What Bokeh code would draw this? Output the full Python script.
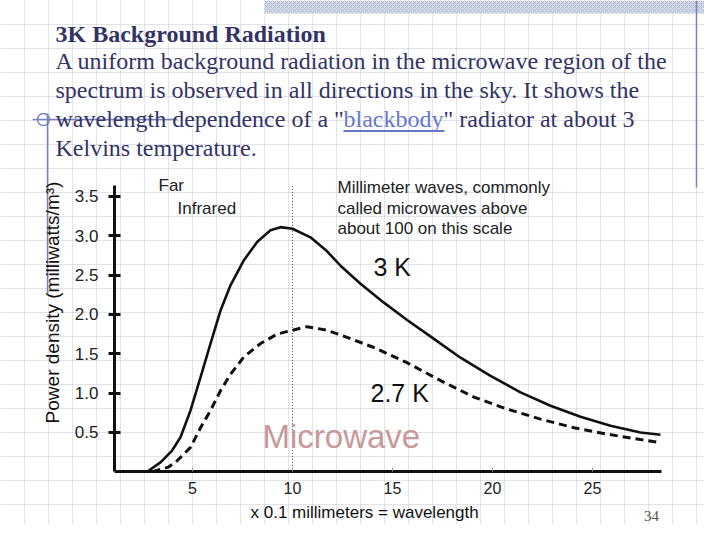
from bokeh.plotting import figure
from bokeh.models import Range1d, LinearAxis, FixedTicker, Grid, Label, NumeralTickFormatter
from bokeh.embed import file_html
from bokeh.resources import INLINE

# ---------------- data ----------------
wl_3k = [2.73, 3.4, 3.98, 4.4, 4.9, 5.4, 5.9, 6.4, 6.9, 7.57, 8.23, 8.9, 9.4, 10.0,
         10.9, 11.7, 12.4, 13.4, 14.57, 15.73, 17.07, 18.4, 19.9, 21.4, 22.9,
         24.4, 25.9, 27.4, 28.4]
pd_3k = [0.0, 0.12, 0.27, 0.44, 0.78, 1.20, 1.63, 2.05, 2.37, 2.69, 2.92, 3.07, 3.11, 3.09,
         2.98, 2.81, 2.62, 2.39, 2.15, 1.93, 1.69, 1.45, 1.22, 1.01, 0.84,
         0.70, 0.585, 0.50, 0.47]

wl_27k = [3.0, 3.8, 4.23, 4.9, 5.4, 5.9, 6.4, 6.9, 7.57, 8.4, 9.23, 10.0, 10.73, 11.7,
          12.4, 14.07, 15.7, 17.4, 19.07, 20.7, 22.4, 24.07, 25.7, 27.4, 28.4]
pd_27k = [0.0, 0.06, 0.14, 0.31, 0.56, 0.78, 1.03, 1.24, 1.46, 1.63, 1.75, 1.80, 1.845, 1.80,
          1.74, 1.58, 1.39, 1.16, 0.95, 0.80, 0.67, 0.56, 0.48, 0.41, 0.37]

x_ticks = [5, 10, 15, 20, 25]
y_ticks = [0.5, 1.0, 1.5, 2.0, 2.5, 3.0, 3.5]
microwave_edge = 10
x_axis_bounds = (1.1, 28.45)
y_axis_bounds = (0.0, 3.64)

title_text = "3K Background Radiation"
body_lines = [
    "A uniform background radiation in the microwave region of the",
    "spectrum is observed in all directions in the sky. It shows the",
    None,
    "Kelvins temperature.",
]
line3_parts = ['wavelength dependence of a "', "blackbody", '" radiator at about 3']

# ---------------- layout helpers (slide pixel -> data) ----------------
W, H = 704, 524
X0_PX, X_SCALE = 92.0, 20.0
Y0_PX, Y_SCALE = 471.3, 78.67


def dx(px):
    return (px - X0_PX) / X_SCALE


def dy(py):
    return (Y0_PX - py) / Y_SCALE


p = figure(width=W, height=H, output_backend="svg", toolbar_location=None,
           x_range=Range1d(dx(0), dx(W)), y_range=Range1d(dy(H), dy(0)),
           x_axis_type=None, y_axis_type=None, min_border=0)
p.outline_line_color = None
p.background_fill_color = "white"
p.border_fill_color = "white"

# slide background dotted grid
p.add_layout(Grid(dimension=0, ticker=FixedTicker(ticks=[dx(24 * k) for k in range(31)]),
                  grid_line_color="#c3c7d3", grid_line_dash="1 1", grid_line_width=1))
p.add_layout(Grid(dimension=1, ticker=FixedTicker(ticks=[dy(24 * k) for k in range(24)]),
                  grid_line_color="#c3c7d3", grid_line_dash="1 1", grid_line_width=1))

# slide decorations
p.quad(left=[dx(264)], right=[dx(724)], top=[dy(0)], bottom=[dy(13)],
       fill_color="#d6dbe9", line_color=None, hatch_pattern="x",
       hatch_color="#b3bbd3", hatch_scale=4, hatch_weight=1)
deco = "#7a82b6"
p.segment(x0=[dx(696)], y0=[dy(0)], x1=[dx(696)], y1=[dy(187)], line_color=deco, line_width=1.5)
p.segment(x0=[dx(47)], y0=[dy(113)], x1=[dx(47)], y1=[dy(293)], line_color=deco, line_width=1.5)
p.segment(x0=[dx(32)], y0=[dy(119)], x1=[dx(177)], y1=[dy(119)], line_color=deco, line_width=1.5)
p.scatter(x=[dx(43)], y=[dy(119)], marker="circle", size=12, fill_color=None,
          line_color=deco, line_width=1.5)

# slide text (y values are visual centres)
navy = "#333366"
serif = "Liberation Serif"
p.add_layout(Label(x=dx(55), y=dy(33), text=title_text, text_font=serif,
                   text_font_style="bold", text_font_size="24px", text_color=navy,
                   text_baseline="middle"))
centres = [60.5, 89.5, 118.5, 147.5]
for txt, cy in zip(body_lines, centres):
    if txt is None:
        continue
    p.add_layout(Label(x=dx(55), y=dy(cy), text=txt, text_font=serif,
                       text_font_size="24px", text_color=navy, text_baseline="middle"))
part_x = [55, 343, 443]
part_col = [navy, "#6677cc", navy]
for txt, xx, col in zip(line3_parts, part_x, part_col):
    p.add_layout(Label(x=dx(xx), y=dy(centres[2]), text=txt, text_font=serif,
                       text_font_size="24px", text_color=col, text_baseline="middle"))
p.segment(x0=[dx(343)], y0=[dy(130.5)], x1=[dx(444)], y1=[dy(130.5)],
          line_color="#6677cc", line_width=2)

# ---------------- chart ----------------
p.segment(x0=[microwave_edge], y0=[0], x1=[microwave_edge], y1=[y_axis_bounds[1]],
          line_color="#444444", line_dash="1 2", line_width=1)
p.line(wl_3k, pd_3k, line_color="#111111", line_width=2.6)
p.line(wl_27k, pd_27k, line_color="#111111", line_width=3, line_dash="8 5")

yaxis = LinearAxis(fixed_location=x_axis_bounds[0], bounds=y_axis_bounds,
                   ticker=FixedTicker(ticks=y_ticks), formatter=NumeralTickFormatter(format="0.0"),
                   axis_line_width=3, axis_line_color="#111111",
                   major_tick_in=6, major_tick_out=6, major_tick_line_width=3,
                   major_tick_line_color="#111111", minor_tick_line_color=None,
                   major_label_text_font="Liberation Sans", major_label_text_font_size="17px",
                   major_label_text_color="#222222", major_label_standoff=10)
p.add_layout(yaxis, "left")
xaxis = LinearAxis(fixed_location=0, bounds=x_axis_bounds,
                   ticker=FixedTicker(ticks=x_ticks),
                   axis_line_width=3, axis_line_color="#111111",
                   major_tick_in=4, major_tick_out=0, major_tick_line_width=1,
                   major_tick_line_color="#999999", minor_tick_line_color=None,
                   major_label_text_font="Liberation Sans", major_label_text_font_size="16px",
                   major_label_text_color="#222222", major_label_standoff=10)
p.add_layout(xaxis, "below")

sans = "Liberation Sans"
chart_texts = [
    ("Far", 158, 185, "17px", "#222222"),
    ("Infrared", 177, 208, "17px", "#222222"),
    ("Millimeter waves, commonly", 337, 187, "17px", "#222222"),
    ("called microwaves above", 337, 208, "17px", "#222222"),
    ("about 100 on this scale", 337, 228, "17px", "#222222"),
    ("3 K", 373, 266, "25px", "#111111"),
    ("2.7 K", 370, 392, "25px", "#111111"),
    ("Microwave", 262, 436, "33px", "#c8999a"),
    ("x 0.1 millimeters = wavelength", 250, 512, "17px", "#111111"),
]
for txt, xx, cy, fs, col in chart_texts:
    p.add_layout(Label(x=dx(xx), y=dy(cy), text=txt, text_font=sans, text_font_size=fs,
                       text_color=col, text_baseline="middle"))

p.add_layout(Label(x=dx(52), y=dy(302), text="Power density (milliwatts/m³)", text_font=sans,
                   text_font_size="19px", text_color="#111111", angle=90, angle_units="deg",
                   text_align="center", text_baseline="middle"))
p.add_layout(Label(x=dx(651), y=dy(515), text="34", text_font="Liberation Sans Narrow",
                   text_font_size="15px", text_color="#555555", text_align="center",
                   text_baseline="middle"))

open("out.html", "w").write(file_html(p, INLINE))
